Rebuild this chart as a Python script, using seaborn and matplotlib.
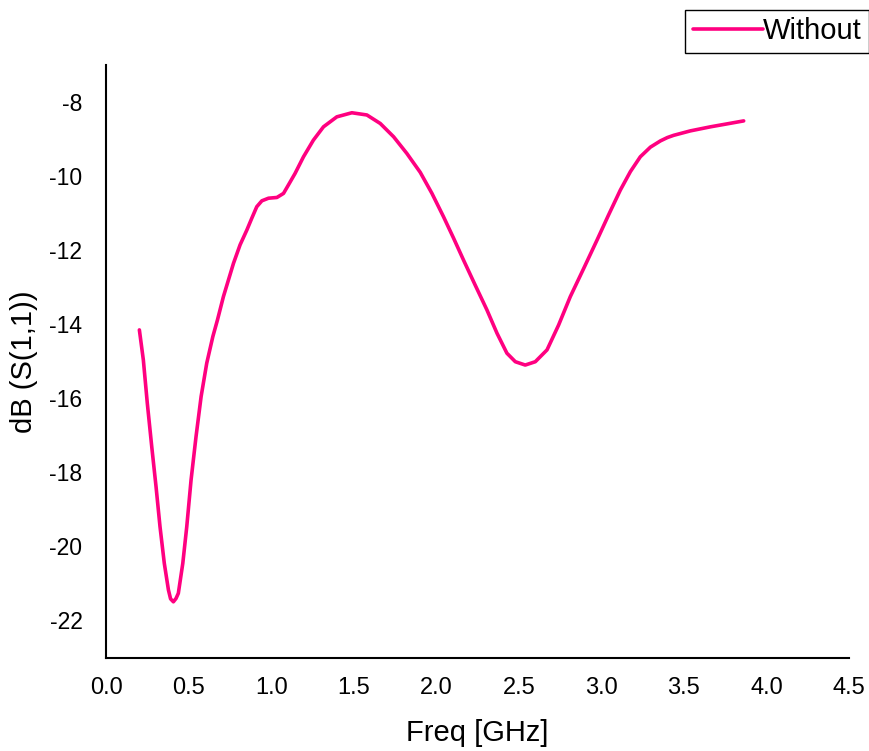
import matplotlib
matplotlib.use("Agg")
import matplotlib.pyplot as plt
import seaborn as sns
import pandas as pd

freq_ghz = [0.202, 0.226, 0.250, 0.277, 0.303, 0.327, 0.353, 0.378, 0.391, 0.408,
            0.424, 0.438, 0.465, 0.489, 0.515, 0.545, 0.576, 0.610, 0.647, 0.675,
            0.711, 0.772, 0.812, 0.853, 0.883, 0.913, 0.944, 0.984, 1.035, 1.075,
            1.105, 1.145, 1.196, 1.256, 1.317, 1.398, 1.489, 1.580, 1.661, 1.742,
            1.822, 1.903, 1.974, 2.044, 2.105, 2.165, 2.236, 2.307, 2.368, 2.428,
            2.479, 2.539, 2.600, 2.671, 2.741, 2.812, 2.893, 2.974, 3.044, 3.115,
            3.176, 3.236, 3.297, 3.358, 3.400, 3.438, 3.539, 3.661, 3.762, 3.862]
s11_db = [-14.16, -14.97, -16.14, -17.32, -18.40, -19.48, -20.47, -21.19, -21.43, -21.51,
          -21.42, -21.28, -20.47, -19.48, -18.22, -17.05, -15.96, -15.06, -14.34, -13.89,
          -13.26, -12.36, -11.86, -11.46, -11.14, -10.83, -10.67, -10.60, -10.58, -10.47,
          -10.24, -9.93, -9.48, -9.03, -8.67, -8.40, -8.29, -8.35, -8.58, -8.94,
          -9.39, -9.90, -10.47, -11.10, -11.68, -12.27, -12.95, -13.62, -14.25, -14.79,
          -15.02, -15.11, -15.02, -14.70, -14.03, -13.26, -12.50, -11.73, -11.05, -10.38,
          -9.88, -9.48, -9.22, -9.05, -8.96, -8.90, -8.78, -8.67, -8.59, -8.51]
series_name = "Without"
x_ticks = [0.0, 0.5, 1.0, 1.5, 2.0, 2.5, 3.0, 3.5, 4.0, 4.5]
y_ticks = [-8, -10, -12, -14, -16, -18, -20, -22]

df = pd.DataFrame({"Freq": freq_ghz, "dB": s11_db, "series": series_name})

sns.set_style("white")
plt.rcParams["font.family"] = ["Liberation Sans", "DejaVu Sans"]

fig = plt.figure(figsize=(8.69, 7.51), dpi=100)
ax = fig.add_axes([0.122, 0.1238, 0.855, 0.7896])

sns.lineplot(data=df, x="Freq", y="dB", hue="series", palette=["#FF0080"],
             linewidth=2.6, ax=ax, legend=False, sort=False)

ax.set_xlim(0, 4.5)
ax.set_ylim(-23.03, -7.0)
ax.set_xticks(x_ticks)
ax.set_xticklabels([f"{t:.1f}" for t in x_ticks])
ax.set_yticks(y_ticks)
ax.set_yticklabels([str(t) for t in y_ticks])
ax.tick_params(axis="both", length=0, colors="black")
ax.tick_params(axis="x", labelsize=17, pad=14)
ax.tick_params(axis="y", labelsize=16.5, pad=17)

for side in ["top", "right"]:
    ax.spines[side].set_visible(False)
for side in ["left", "bottom"]:
    ax.spines[side].set_color("black")
    ax.spines[side].set_linewidth(1.5)

ax.set_xlabel("Freq [GHz]", fontsize=21, labelpad=14, color="black")
ax.set_ylabel("dB (S(1,1))", fontsize=21, labelpad=8, color="black")

handle = plt.Line2D([], [], color="#FF0080", linewidth=2.6)
leg = fig.legend([handle], [series_name], loc="upper right",
                 bbox_to_anchor=(0.9995, 0.9867), fontsize=21, frameon=True,
                 fancybox=False, framealpha=1, edgecolor="black",
                 handlelength=2.4, handletextpad=0.0, borderpad=0.25,
                 borderaxespad=0)
leg.get_frame().set_linewidth(1.0)
for t in leg.get_texts():
    t.set_color("black")

fig.savefig("out.png", dpi=100)
